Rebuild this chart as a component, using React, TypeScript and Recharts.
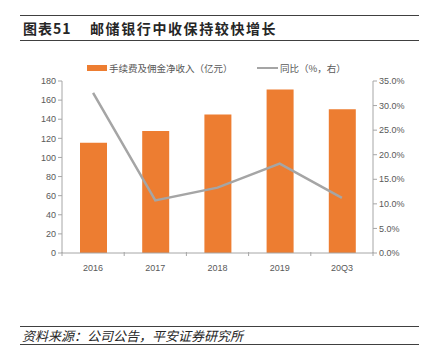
import { ComposedChart, Bar, Line, XAxis, YAxis } from 'recharts'

const categories = ['2016', '2017', '2018', '2019', '20Q3']
const feeIncome = [115.5, 127.7, 145, 171, 150.4]
const yoy = [32.6, 10.7, 13.3, 18.2, 11.2]
const leftTicks = [0, 20, 40, 60, 80, 100, 120, 140, 160, 180]
const rightTicks = [0, 5, 10, 15, 20, 25, 30, 35]

const data = categories.map((name, i) => ({ name, fee: feeIncome[i], yoy: yoy[i] }))

const FONT = '"Liberation Sans", "Noto Sans CJK SC", sans-serif'
const CJK = '"Noto Sans CJK SC", sans-serif'
const axisColor = '#a6a6a6'
const labelColor = '#595959'

const XTick = (props: any) => {
  const { x, y, payload, index } = props
  const half = 311 / 5 / 2
  return (
    <g>
      <line x1={x - half} y1={y - 5} x2={x - half} y2={y - 9} stroke={axisColor} />
      {index === categories.length - 1 && (
        <line x1={x + half} y1={y - 5} x2={x + half} y2={y - 9} stroke={axisColor} />
      )}
      <text x={x} y={y + 10} textAnchor="middle" fontSize={9} fill={labelColor} fontFamily={FONT}>
        {payload.value}
      </text>
    </g>
  )
}

export default function App() {
  return (
    <div style={{ position: 'absolute', left: 0, top: 0, width: 424, height: 352, background: '#fff' }}>
      <div style={{ position: 'absolute', left: 20, top: 15, width: 399, height: 24, borderTop: '1.5px solid #404040', borderBottom: '1.5px solid #404040' }} />
      <div style={{ position: 'absolute', left: 23, top: 18, fontFamily: CJK, fontWeight: 700, fontSize: 14, color: '#262626', whiteSpace: 'pre' }}>
        <span style={{ letterSpacing: 1 }}>图表51</span>
        <span style={{ position: 'absolute', left: 67, letterSpacing: 1.6, whiteSpace: 'nowrap' }}>邮储银行中收保持较快增长</span>
      </div>

      <div style={{ position: 'absolute', left: 87, top: 61, display: 'flex', alignItems: 'center', fontFamily: CJK, fontSize: 9.5, color: labelColor }}>
        <span style={{ display: 'inline-block', width: 20, height: 6, background: '#ED7D31', marginRight: 2 }} />
        手续费及佣金净收入（亿元）
      </div>
      <div style={{ position: 'absolute', left: 257, top: 61, display: 'flex', alignItems: 'center', fontFamily: CJK, fontSize: 9.5, color: labelColor }}>
        <span style={{ display: 'inline-block', width: 21, height: 2, background: '#A5A5A5', marginRight: 2 }} />
        同比（%，右）
      </div>

      <div style={{ position: 'absolute', left: 0, top: 0 }}>
        <ComposedChart width={424} height={352} data={data} margin={{ top: 81, right: 0, left: 0, bottom: 79 }}>
          <XAxis
            dataKey="name"
            axisLine={{ stroke: axisColor }}
            tickLine={false}
            tick={<XTick />}
            height={20}
          />
          <YAxis
            yAxisId="left"
            width={62}
            domain={[0, 180]}
            ticks={leftTicks}
            axisLine={{ stroke: axisColor }}
            tickLine={{ stroke: axisColor }}
            tickSize={4}
            tick={{ fontSize: 9, fill: labelColor, fontFamily: FONT }}
          />
          <YAxis
            yAxisId="right"
            orientation="right"
            width={51}
            domain={[0, 35]}
            ticks={rightTicks}
            tickFormatter={(v: number) => v.toFixed(1) + '%'}
            axisLine={{ stroke: axisColor }}
            tickLine={{ stroke: axisColor }}
            tickSize={4}
            tick={{ fontSize: 9, fill: labelColor, fontFamily: FONT }}
          />
          <Bar yAxisId="left" dataKey="fee" fill="#ED7D31" barSize={27} isAnimationActive={false} />
          <Line yAxisId="right" dataKey="yoy" stroke="#A5A5A5" strokeWidth={2.5} dot={false} isAnimationActive={false} />
        </ComposedChart>
      </div>

      <div style={{ position: 'absolute', left: 20, top: 326, width: 399, height: 17, borderTop: '1.5px solid #404040', borderBottom: '1.5px solid #404040' }} />
      <div style={{ position: 'absolute', left: 22, top: 326, fontFamily: CJK, fontStyle: 'italic', fontSize: 13, color: '#262626' }}>
        资料来源：公司公告，平安证券研究所
      </div>
    </div>
  )
}
